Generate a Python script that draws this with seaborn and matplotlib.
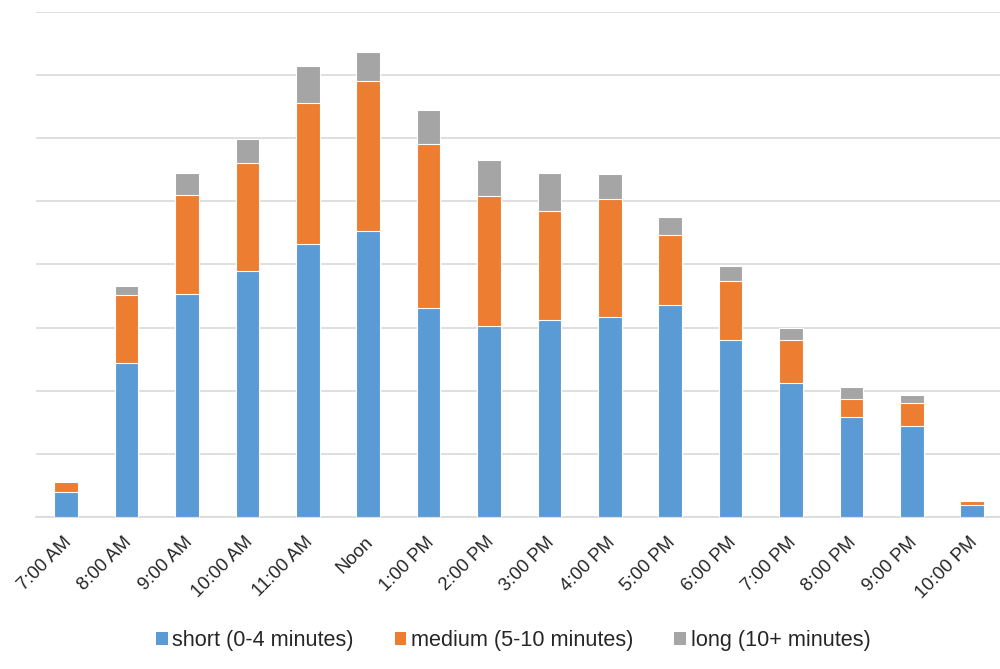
import matplotlib
matplotlib.use("Agg")
import matplotlib.pyplot as plt
from matplotlib.patches import Patch
from matplotlib.transforms import ScaledTranslation
import numpy as np
import pandas as pd
import seaborn as sns

# Hourly visit counts split by visit length
hours = ["7:00 AM", "8:00 AM", "9:00 AM", "10:00 AM", "11:00 AM", "Noon",
         "1:00 PM", "2:00 PM", "3:00 PM", "4:00 PM", "5:00 PM", "6:00 PM",
         "7:00 PM", "8:00 PM", "9:00 PM", "10:00 PM"]
short_visits = [4.0, 24.4, 35.4, 39.0, 43.3, 45.3, 33.1, 30.3, 31.2, 31.7,
                33.6, 28.0, 21.3, 15.9, 14.4, 1.9]
medium_visits = [1.5, 10.8, 15.6, 17.1, 22.3, 23.7, 26.0, 20.6, 17.3, 18.6,
                 11.0, 9.4, 6.8, 2.8, 3.7, 0.6]
long_visits = [0.2, 1.4, 3.5, 3.7, 5.9, 4.7, 5.4, 5.6, 6.0, 4.0,
               2.9, 2.3, 1.9, 1.9, 1.2, 0.2]
series_names = ["short (0-4 minutes)", "medium (5-10 minutes)", "long (10+ minutes)"]
series_colors = ["#5B9BD5", "#ED7D31", "#A5A5A5"]

df = pd.DataFrame({
    "hour": hours,
    "short": short_visits,
    "medium": medium_visits,
    "long": long_visits,
})
df["short_top"] = df["short"]
df["medium_top"] = df["short"] + df["medium"]
df["long_top"] = df["medium_top"] + df["long"]

sns.set_theme(style="white")
plt.rcParams["font.family"] = ["Liberation Sans", "DejaVu Sans"]

fig = plt.figure(figsize=(10, 6.69), dpi=100)
ax = fig.add_axes([0.036, 0.2272, 0.9664, 0.7549])

# Stack by drawing cumulative heights from the tallest segment down
for col, color in zip(["long_top", "medium_top", "short_top"], series_colors[::-1]):
    sns.barplot(data=df, x="hour", y=col, order=hours, color=color,
                saturation=1, width=0.39, edgecolor="white", linewidth=0.8,
                ax=ax, zorder=3)

ax.set_ylim(0, 80)
ax.set_xlim(-0.5, len(hours) - 0.5)
ax.set_yticks(np.arange(0, 81, 10))
ax.set_yticklabels([])
ax.yaxis.grid(True, color="#D9D9D9", linewidth=1.2, zorder=0)
ax.set_axisbelow(True)
ax.set_xlabel("")
ax.set_ylabel("")
for side in ["top", "right", "left"]:
    ax.spines[side].set_visible(False)
ax.spines["bottom"].set_color("#D9D9D9")
ax.spines["bottom"].set_linewidth(1.2)
ax.tick_params(axis="both", length=0)
ax.tick_params(axis="x", pad=12)
shift = ScaledTranslation(-3.5 / 100, 0, fig.dpi_scale_trans)
for lbl in ax.get_xticklabels():
    lbl.set_rotation(45)
    lbl.set_ha("right")
    lbl.set_rotation_mode("anchor")
    lbl.set_fontsize(13.3)
    lbl.set_color("#262626")
    lbl.set_transform(lbl.get_transform() + shift)

handles = [Patch(facecolor=c, edgecolor="none", label=n)
           for c, n in zip(series_colors, series_names)]
fig.legend(handles=handles, loc="center", bbox_to_anchor=(0.513, 0.042),
           ncol=3, frameon=False, fontsize=15.6, handlelength=0.55,
           handleheight=0.54, handletextpad=0.2, columnspacing=1.9,
           labelcolor="#262626", borderpad=0.2)

fig.savefig("out.png", dpi=100)
